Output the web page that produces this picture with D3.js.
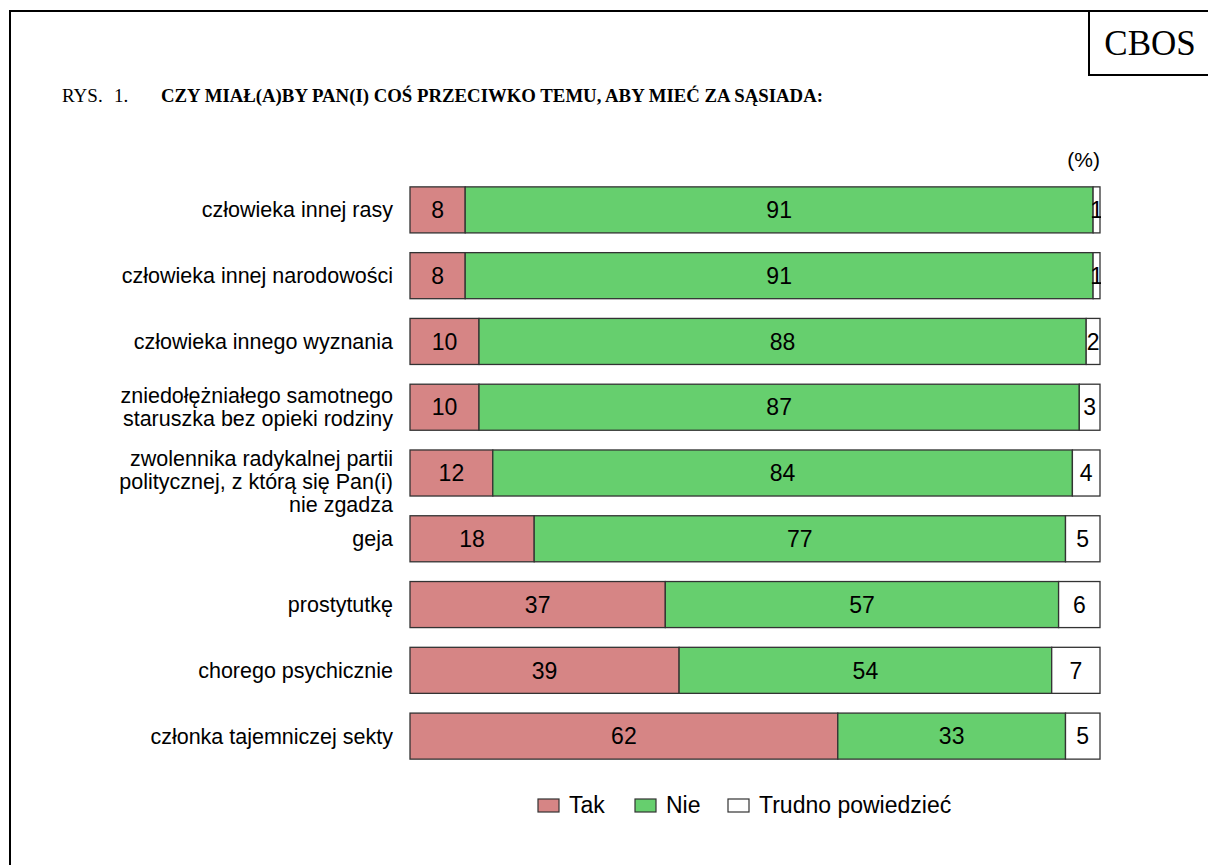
<!DOCTYPE html>
<html>
<head>
<meta charset="utf-8">
<script src="https://cdn.jsdelivr.net/npm/d3@7"></script>
<style>
  body { margin: 0; background: #fff; }
  text { font-family: "Liberation Sans", Arial, sans-serif; }
  .serif { font-family: "Liberation Serif", "Times New Roman", serif; }
</style>
</head>
<body>
<div id="chart"></div>
<script>
// categories (multi-line labels split by |)
var categories = [
  'człowieka innej rasy',
  'człowieka innej narodowości',
  'człowieka innego wyznania',
  'zniedołężniałego samotnego|staruszka bez opieki rodziny',
  'zwolennika radykalnej partii|politycznej, z którą się Pan(i)|nie zgadza',
  'geja',
  'prostytutkę',
  'chorego psychicznie',
  'członka tajemniczej sekty'
];
var tak = [8, 8, 10, 10, 12, 18, 37, 39, 62];
var nie = [91, 91, 88, 87, 84, 77, 57, 54, 33];
var trudno = [1, 1, 2, 3, 4, 5, 6, 7, 5];
var seriesNames = ['Tak', 'Nie', 'Trudno powiedzieć'];
var seriesColors = ['#d68585', '#66cf6e', '#ffffff'];

var svgWidth = 1208, svgHeight = 865;

var svg = d3.select('#chart')
    .append('svg')
    .attr('width', svgWidth)
    .attr('height', svgHeight);

// frame
svg.append('path')
    .attr('d', 'M10,865 L10,11 L1208,11')
    .attr('fill', 'none')
    .attr('stroke', '#000')
    .attr('stroke-width', 2);
svg.append('path')
    .attr('d', 'M1089,11 L1089,75 L1208,75')
    .attr('fill', 'none')
    .attr('stroke', '#000')
    .attr('stroke-width', 2);
svg.append('text')
    .classed('serif', true)
    .attr('x', 1150)
    .attr('y', 55)
    .attr('text-anchor', 'middle')
    .attr('font-size', '35px')
    .text('CBOS');

// title
var title = svg.append('text')
    .classed('serif', true)
    .attr('y', 102)
    .attr('font-size', '19px');
title.append('tspan').attr('x', 62).text('RYS.');
title.append('tspan').attr('x', 114).text('1.');
title.append('tspan')
    .attr('x', 161)
    .attr('font-weight', 'bold')
    .attr('font-size', '18.8px')
    .attr('textLength', 662)
    .attr('lengthAdjust', 'spacingAndGlyphs')
    .text('CZY MIAŁ(A)BY PAN(I) COŚ PRZECIWKO TEMU, ABY MIEĆ ZA SĄSIADA:');

// build stacked data
var data = categories.map(function(c, i) {
  return {cat: c, vals: [tak[i], nie[i], trudno[i]]};
});

var x = d3.scaleLinear()
    .domain([0, 100])
    .range([410, 1100]);

var y = d3.scaleBand()
    .domain(categories)
    .range([177, 769])
    .paddingInner(0.3)
    .paddingOuter(0.15);

// value labels do not spill past the plot
svg.append('clipPath')
    .attr('id', 'plotClip')
    .append('rect')
    .attr('x', x(0))
    .attr('y', 0)
    .attr('width', x(100) - x(0) + 1)
    .attr('height', svgHeight);

svg.append('text')
    .attr('x', 1100)
    .attr('y', 167)
    .attr('text-anchor', 'end')
    .attr('font-size', '21px')
    .text('(%)');

var rows = svg.selectAll('.row')
    .data(data)
    .enter()
    .append('g')
    .attr('class', 'row')
    .attr('transform', d => `translate(0, ${y(d.cat)})`);

rows.each(function(d) {
  var g = d3.select(this);
  var start = 0;
  d.vals.forEach(function(v, k) {
    g.append('rect')
        .attr('x', x(start))
        .attr('y', 0)
        .attr('width', x(start + v) - x(start))
        .attr('height', y.bandwidth())
        .attr('fill', seriesColors[k])
        .attr('stroke', '#333')
        .attr('stroke-width', 1.3);
    start += v;
  });
  start = 0;
  var vg = g.append('g').attr('clip-path', 'url(#plotClip)');
  d.vals.forEach(function(v) {
    vg.append('text')
        .attr('x', (x(start) + x(start + v)) / 2)
        .attr('y', y.bandwidth() / 2)
        .attr('dy', '0.36em')
        .attr('text-anchor', 'middle')
        .attr('font-size', '23px')
        .text(v);
    start += v;
  });

  // category label
  var lines = d.cat.split('|');
  var lh = 23;
  var offset = lines.length > 2 ? 8 : 0;
  var lab = g.append('text')
      .attr('text-anchor', 'end')
      .attr('font-size', '21.5px');
  lines.forEach(function(line, j) {
    lab.append('tspan')
        .attr('x', 393)
        .attr('y', y.bandwidth() / 2 + offset + (j - (lines.length - 1) / 2) * lh)
        .attr('dy', '0.35em')
        .text(line);
  });
});

// legend
var legendX = [538, 635, 728];
var legend = svg.selectAll('.legend')
    .data(seriesNames)
    .enter()
    .append('g')
    .attr('class', 'legend')
    .attr('transform', (d, i) => `translate(${legendX[i]}, 799)`);
legend.append('rect')
    .attr('width', 21)
    .attr('height', 13)
    .attr('fill', (d, i) => seriesColors[i])
    .attr('stroke', '#333')
    .attr('stroke-width', 1.2);
legend.append('text')
    .attr('x', 31)
    .attr('y', 14)
    .attr('font-size', '23px')
    .text(d => d);
</script>
</body>
</html>
